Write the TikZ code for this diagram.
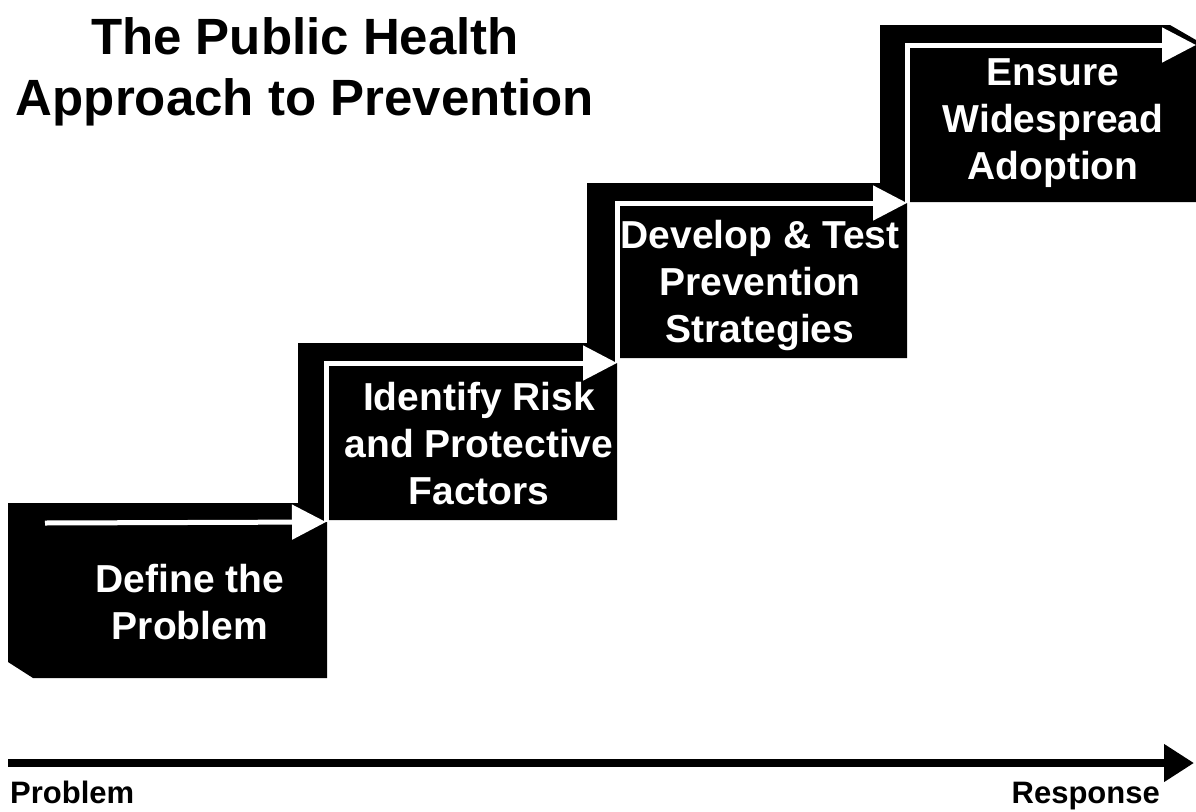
\documentclass[tikz,border=0pt]{standalone}
\usepackage{fontspec}
\setmainfont{Liberation Sans}
\usetikzlibrary{arrows.meta}

\tikzset{
  stepbox/.style={fill=black},
  steptext/.style={text=white,font=\bfseries\fontsize{39}{47}\selectfont,align=center,inner sep=0pt},
  stepline/.style={draw=white,line width=5pt,-{Triangle[length=34pt,width=34pt]}},
  endlabel/.style={font=\bfseries\fontsize{31}{36}\selectfont,inner sep=0pt},
}

\begin{document}
\begin{tikzpicture}[x=1pt,y=-1pt]

  \useasboundingbox (0,0) rectangle (1196,811);

  % steps
  \fill[stepbox] (8,503) -- (327,503) -- (327,678) -- (33,678) -- (8,662) -- cycle;
  \fill[stepbox] (298,343) -- (592,343) -- (617,358) -- (617,520) -- (298,520) -- cycle;
  \fill[stepbox] (587,183) -- (882,183) -- (907,198) -- (907,358) -- (587,358) -- cycle;
  \fill[stepbox] (880,25) -- (1170,25) -- (1196,40) -- (1196,202) -- (880,202) -- cycle;

  \coordinate (a0) at (45,523);
  \coordinate (a1) at (326,522);
  \coordinate (a2) at (617,363);
  \coordinate (a3) at (907,203);
  \coordinate (a4) at (1196,45);

  \draw[stepline] (a0) -- (a1);
  \draw[stepline] (a1) |- (a2);
  \draw[stepline] (a2) |- (a3);
  \draw[stepline] (a3) |- (a4);

  \node[steptext] (s1) at (190,602) {Define the\\Problem};
  \node[steptext] (s2) at (479,444) {Identify Risk\\and Protective\\Factors};
  \node[steptext] (s3) at (760,285) {Develop \& Test\\Prevention\\Strategies};
  \node[steptext] (s4) at (1053,123) {Ensure\\Widespread\\Adoption};

  % title
  \node[font=\bfseries\fontsize{51}{61}\selectfont,align=center,inner sep=0pt] (title) at (305,72)
    {The Public Health\\Approach to Prevention};

  % axis
  \coordinate (ax0) at (8,763);
  \coordinate (ax1) at (1194,763);
  \draw[line width=8pt,-{Triangle[length=30pt,width=36pt]}] (ax0) -- (ax1);
  \node[endlabel,anchor=base west] (prob) at (10,803) {Problem};
  \node[endlabel,anchor=base east] (resp) at (1160,803) {Response};

\end{tikzpicture}
\end{document}
